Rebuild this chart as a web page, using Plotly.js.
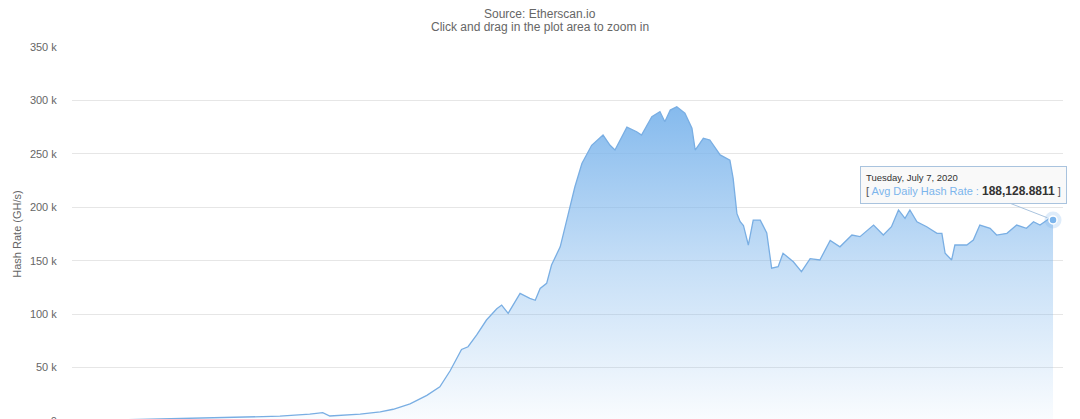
<!DOCTYPE html>
<html><head><meta charset="utf-8">
<script src="https://cdn.plot.ly/plotly-3.0.1.min.js"></script>
<style>html,body{margin:0;padding:0;overflow:hidden;background:#fff}#chart{width:1080px;height:440px}</style>
</head><body><div id="chart"></div>
<script>
const dates = [
'2015-07-30','2015-10-21','2016-01-03','2016-03-22','2016-05-29','2016-08-11','2016-10-05','2016-10-29','2016-11-11','2016-12-09',
'2017-01-06','2017-02-12','2017-03-08','2017-04-08','2017-05-09','2017-06-02','2017-06-21','2017-07-12','2017-07-24','2017-08-09',
'2017-08-27','2017-09-15','2017-09-24','2017-10-06','2017-10-28','2017-11-15','2017-11-25','2017-12-04','2017-12-16','2017-12-25',
'2018-01-10','2018-01-25','2018-02-06','2018-02-19','2018-03-09','2018-03-30','2018-04-12','2018-04-21','2018-05-13','2018-05-31',
'2018-06-09','2018-06-28','2018-07-13','2018-07-22','2018-08-01','2018-08-13','2018-08-28','2018-09-10','2018-09-16','2018-10-01',
'2018-10-13','2018-11-01','2018-11-19','2018-11-25','2018-12-02','2018-12-08','2018-12-14','2018-12-23','2019-01-01','2019-01-14',
'2019-01-26','2019-02-04','2019-02-16','2019-02-25','2019-03-16','2019-03-31','2019-04-16','2019-05-04','2019-05-23','2019-06-10',
'2019-07-02','2019-07-17','2019-08-11','2019-08-29','2019-09-13','2019-09-26','2019-10-08','2019-10-17','2019-10-30','2019-11-17',
'2019-12-06','2019-12-15','2019-12-21','2020-01-02','2020-01-08','2020-01-30','2020-02-11','2020-02-23','2020-03-13','2020-03-25',
'2020-04-13','2020-05-01','2020-05-19','2020-06-01','2020-06-13','2020-07-01','2020-07-07'
];
const hashRate = [
60,1000,1500,2800,3800,4500,6500,7800,4700,5600,
6500,8500,11000,16000,24000,32000,47000,67000,69500,80500,
94500,105000,108500,100800,119500,114800,113000,124000,128800,146000,
163000,194000,219000,241000,258000,267600,258000,253600,275000,270700,
267600,284800,289500,280000,291000,294000,288000,274000,253600,264500,
263000,249000,244000,227000,194000,186500,183000,164700,188000,188000,
176000,143000,144400,157000,149000,139700,152000,150700,169000,163000,
174000,172500,183400,174000,181800,197500,189700,197500,186500,181800,
175600,175600,157000,150700,164700,164700,169400,183400,180300,174000,
175600,183400,180300,186500,183400,189700,188128.8811
];
const yTickVals = [0,50000,100000,150000,200000,250000,300000,350000];
const yTickText = ['0','50 k','100 k','150 k','200 k','250 k','300 k','350 k'];
const chartTitle = 'Ethereum Network Hash Rate Chart';
const subTitle1 = 'Source: Etherscan.io';
const subTitle2 = 'Click and drag in the plot area to zoom in';
const tipDate = 'Tuesday, July 7, 2020';
const tipLabel = 'Avg Daily Hash Rate';
const tipValue = '188,128.8811';

const FONT = 'Liberation Sans, Arial, sans-serif';
const n = dates.length;

const area = {
  type:'scatter', mode:'lines', x:dates, y:hashRate,
  line:{color:'#79aee3', width:1.3},
  fill:'tozeroy',
  fillgradient:{type:'vertical', start:0, stop:300000,
    colorscale:[[0,'rgba(124,181,236,0.04)'],[0.5,'rgba(124,181,236,0.45)'],[1,'rgba(124,181,236,0.95)']]},
  hoverinfo:'skip'
};
const halo = {
  type:'scatter', mode:'markers', x:[dates[n-1]], y:[hashRate[n-1]],
  marker:{size:17, color:'rgba(124,181,236,0.25)'}, hoverinfo:'skip'
};
const pt = {
  type:'scatter', mode:'markers', x:[dates[n-1]], y:[hashRate[n-1]],
  marker:{size:8, color:'#7cb5ec', line:{color:'#ffffff', width:1.5}}, hoverinfo:'skip'
};

const layout = {
  width:1080, height:440,
  margin:{l:72, r:17, t:47, b:19},
  paper_bgcolor:'#ffffff', plot_bgcolor:'#ffffff',
  showlegend:false,
  font:{family:FONT, color:'#666666', size:11},
  xaxis:{type:'date', range:['2015-07-24 12:00','2020-07-25 10:00'],
    showgrid:false, showticklabels:false, zeroline:false, showline:false, ticks:''},
  yaxis:{range:[0,350000], tickmode:'array', tickvals:yTickVals, ticktext:yTickText,
    showgrid:true, gridcolor:'#e6e6e6', gridwidth:1, zeroline:false, showline:false,
    ticks:'outside', ticklen:12, tickcolor:'rgba(0,0,0,0)',
    tickfont:{family:FONT, size:11, color:'#666666'},
    title:{text:'Hash Rate (GH/s)', font:{family:FONT, size:11, color:'#666666'}, standoff:6}},
  annotations:[
    {xref:'paper', yref:'paper', x:0.475, y:1.1417, yanchor:'middle', xanchor:'center', showarrow:false,
      text:chartTitle, font:{family:FONT, size:16, color:'#333333'}},
    {xref:'paper', yref:'paper', x:0.4723, y:1.0882, yanchor:'middle', xanchor:'center', showarrow:false,
      text:subTitle1, font:{family:FONT, size:12, color:'#666666'}},
    {xref:'paper', yref:'paper', x:0.4723, y:1.0535, yanchor:'middle', xanchor:'center', showarrow:false,
      text:subTitle2, font:{family:FONT, size:12, color:'#666666'}},
    {x:dates[n-1], y:hashRate[n-1], xref:'x', yref:'y', ax:-90, ay:-35,
      showarrow:true, arrowhead:0, arrowwidth:1, arrowcolor:'#a9c3de', standoff:6,
      align:'left', bgcolor:'rgba(249,249,249,0.92)', bordercolor:'#a9c3de', borderwidth:1, borderpad:5,
      text:'<span style="font-size:9.5px;color:#333333">'+tipDate+'</span><br>'+
           '<span style="color:#555555">[ </span><span style="color:#7cb5ec">'+tipLabel+' : </span>'+
           '<span style="font-size:12px;color:#333333"><b>'+tipValue+'</b></span><span style="color:#555555"> ]</span>',
      font:{family:FONT, size:11, color:'#333333'}}
  ]
};
Plotly.newPlot('chart',[area,halo,pt],layout,{displayModeBar:false, staticPlot:true});
</script>
</body></html>
